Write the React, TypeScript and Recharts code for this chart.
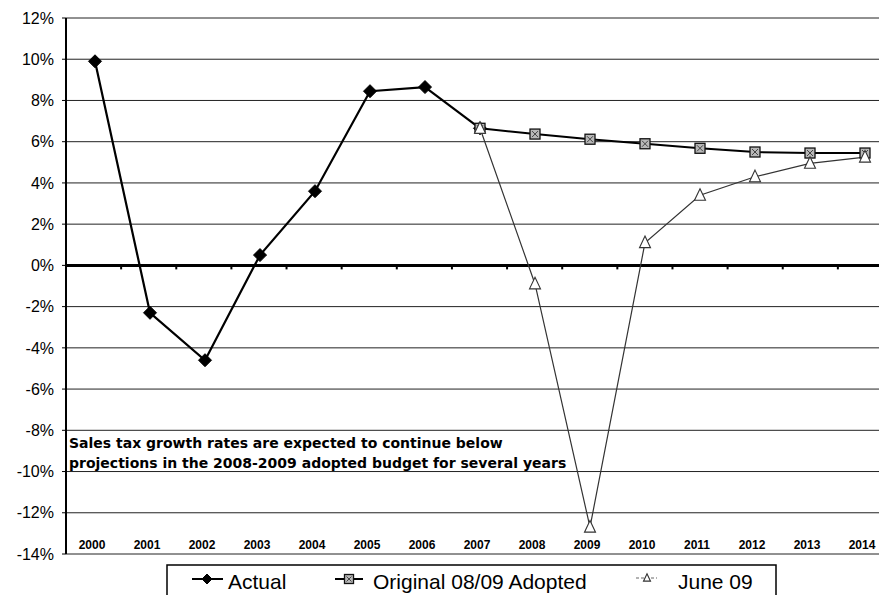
import React from 'react';
import { LineChart, Line, XAxis, YAxis, CartesianGrid, ReferenceLine } from 'recharts';

// Fiscal years on the category axis
const years = ['2000', '2001', '2002', '2003', '2004', '2005', '2006', '2007', '2008', '2009', '2010', '2011', '2012', '2013', '2014'];

// Sales tax growth rate, percent
const actual = [9.9, -2.3, -4.6, 0.5, 3.6, 8.45, 8.65, 6.65, null, null, null, null, null, null, null];
const adopted0809 = [null, null, null, null, null, null, null, 6.65, 6.37, 6.12, 5.9, 5.68, 5.5, 5.45, 5.45];
const june09 = [null, null, null, null, null, null, null, 6.65, -0.9, -12.7, 1.1, 3.4, 4.3, 4.95, 5.25];

const yTicks = [-14, -12, -10, -8, -6, -4, -2, 0, 2, 4, 6, 8, 10, 12];

const noteLines = [
  'Sales tax growth rates are expected to continue below',
  'projections in the 2008-2009 adopted budget for several years',
];

const seriesNames = ['Actual', 'Original 08/09 Adopted', 'June 09'];

const data = years.map((year, i) => ({
  year,
  actual: actual[i],
  adopted: adopted0809[i],
  june: june09[i],
}));

const Diamond = ({ cx, cy, size = 6.5 }: any) =>
  cx == null || cy == null ? null : (
    <polygon points={`${cx},${cy - size} ${cx + size},${cy} ${cx},${cy + size} ${cx - size},${cy}`} fill="#000" stroke="#000" strokeWidth={1} />
  );

const Square = ({ cx, cy, size = 10 }: any) => {
  if (cx == null || cy == null) return null;
  const h = size / 2;
  return (
    <g>
      <rect x={cx - h} y={cy - h} width={size} height={size} fill="#b8b8b8" stroke="#111" strokeWidth={1.3} />
      <path d={`M${cx - h + 2},${cy - h + 2} L${cx + h - 2},${cy + h - 2} M${cx + h - 2},${cy - h + 2} L${cx - h + 2},${cy + h - 2}`} stroke="#444" strokeWidth={1} />
    </g>
  );
};

const Triangle = ({ cx, cy, size = 11 }: any) =>
  cx == null || cy == null ? null : (
    <polygon points={`${cx},${cy - size * 0.6} ${cx + size / 2},${cy + size * 0.45} ${cx - size / 2},${cy + size * 0.45}`} fill="#fff" stroke="#333" strokeWidth={1.1} />
  );

// zero axis: heavy rule with short tick marks at every category boundary
const ZeroAxis = ({ x1, y1, x2, y2 }: any) => {
  if (x1 == null) return null;
  const step = (x2 - x1) / years.length;
  return (
    <g>
      <line x1={x1} y1={y1} x2={x2} y2={y2} stroke="#000" strokeWidth={3} />
      {years.slice(1).map((_, i) => (
        <line key={i} x1={x1 + step * (i + 1)} y1={y1} x2={x1 + step * (i + 1)} y2={y1 + 4} stroke="#000" strokeWidth={2} />
      ))}
    </g>
  );
};

const YearTick = ({ x, y, payload }: any) => (
  <text x={x - 3} y={y - 5} textAnchor="middle" fontFamily="Arial, 'Liberation Sans', sans-serif" fontSize={12} fontWeight="bold" fill="#000">
    {payload.value}
  </text>
);

export default function App() {
  return (
    <div style={{ position: 'absolute', left: 0, top: 0, width: 879, height: 595, overflow: 'hidden', background: '#fff' }}>
      <LineChart width={893} height={600} data={data} margin={{ top: 18, right: 0, bottom: 45, left: 0 }}>
        <CartesianGrid vertical={false} stroke="#222" strokeWidth={1} />
        <XAxis
          dataKey="year"
          padding={{ left: 29, right: 28 }}
          height={1}
          axisLine={false}
          tickLine={false}
          tickSize={0}
          tickMargin={0}
          interval={0}
          tick={<YearTick />}
        />
        <YAxis
          width={66}
          domain={[-14, 12]}
          ticks={yTicks}
          interval={0}
          tickFormatter={(v: number) => `${v}%`}
          axisLine={{ stroke: '#000', strokeWidth: 2 }}
          tickLine={{ stroke: '#000' }}
          tickSize={4}
          tickMargin={8}
          tick={{ fontSize: 16, fill: '#000', fontFamily: "Arial, 'Liberation Sans', sans-serif" }}
        />
        <ReferenceLine y={0} shape={<ZeroAxis />} />
        <Line
          name={seriesNames[0]}
          dataKey="actual"
          stroke="#000"
          strokeWidth={2.2}
          dot={<Diamond />}
          activeDot={false}
          isAnimationActive={false}
        />
        <Line
          name={seriesNames[1]}
          dataKey="adopted"
          stroke="#000"
          strokeWidth={2}
          dot={<Square />}
          activeDot={false}
          isAnimationActive={false}
        />
        <Line
          name={seriesNames[2]}
          dataKey="june"
          stroke="#333"
          strokeWidth={1.2}
          dot={<Triangle />}
          activeDot={false}
          isAnimationActive={false}
        />
      </LineChart>

      <svg width={879} height={595} style={{ position: 'absolute', left: 0, top: 0, pointerEvents: 'none' }}>
        <g fontFamily="'DejaVu Sans', Verdana, sans-serif" fontWeight="bold" fontSize={14} fill="#000">
          {noteLines.map((t, i) => (
            <text key={i} x={69} y={448 + i * 20}>
              {t}
            </text>
          ))}
        </g>

        <rect x={167} y={565} width={609} height={60} fill="#fff" stroke="#000" strokeWidth={1.5} />
        <g fontFamily="Arial, 'Liberation Sans', sans-serif" fontSize={21} fill="#000">
          <line x1={192} y1={579} x2={223} y2={579} stroke="#000" strokeWidth={2} />
          <Diamond cx={207} cy={579} size={5} />
          <text x={228} y={589}>{seriesNames[0]}</text>

          <line x1={335} y1={579} x2={363} y2={579} stroke="#000" strokeWidth={2} />
          <Square cx={349} cy={579} size={9} />
          <text x={373} y={589}>{seriesNames[1]}</text>

          <line x1={636} y1={578} x2={657} y2={578} stroke="#666" strokeWidth={1} strokeDasharray="3 2" />
          <Triangle cx={647} cy={578} size={7} />
          <text x={678} y={589}>{seriesNames[2]}</text>
        </g>
      </svg>
    </div>
  );
}
